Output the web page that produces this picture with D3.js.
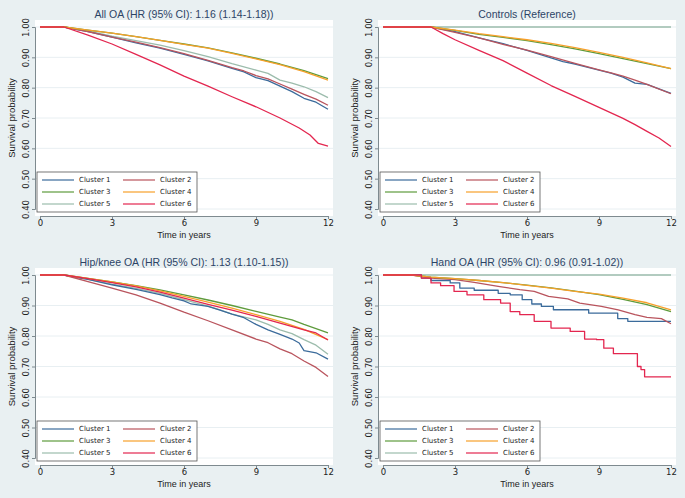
<!DOCTYPE html>
<html><head><meta charset="utf-8">
<script src="https://cdn.jsdelivr.net/npm/d3@7"></script>
<style>
html,body{margin:0;padding:0;background:#e9f0f2;}
svg{display:block;}
text{font-family:"Liberation Sans",Arial,sans-serif;}
</style></head>
<body>
<script>
// ---------- data ----------
const clusterNames = ["Cluster 1","Cluster 2","Cluster 3","Cluster 4","Cluster 5","Cluster 6"];
const xTicks = [0,3,6,9,12];
const yTicks = [0.4,0.5,0.6,0.7,0.8,0.9,1.0];
const panelTitles = ["All OA (HR (95% CI): 1.16 (1.14-1.18))","Controls (Reference)","Hip/knee OA (HR (95% CI): 1.13 (1.10-1.15))","Hand OA (HR (95% CI): 0.96 (0.91-1.02))"];

// All OA
const allOA_c1 = [[0,1],[1,1],[2,0.985],[3,0.967],[4,0.948],[5,0.93],[6,0.91],[7,0.888],[8,0.864],[8.5,0.852],[9,0.833],[9.5,0.823],[10,0.805],[10.5,0.787],[11,0.765],[11.5,0.752],[12,0.729]];
const allOA_c2 = [[0,1],[1,1],[2,0.985],[3,0.967],[4,0.95],[5,0.932],[6,0.912],[7,0.89],[8,0.866],[8.5,0.855],[9,0.84],[9.5,0.829],[10,0.812],[10.5,0.795],[11,0.778],[11.5,0.762],[12,0.742]];
const allOA_c3 = [[0,1],[1,1],[2,0.99],[3,0.98],[4,0.968],[5,0.956],[6,0.944],[7,0.931],[8,0.915],[9,0.897],[10,0.878],[11,0.856],[12,0.83]];
const allOA_c4 = [[0,1],[1,1],[2,0.99],[3,0.98],[4,0.968],[5,0.956],[6,0.943],[7,0.93],[8,0.913],[9,0.895],[10,0.876],[11,0.853],[12,0.825]];
const allOA_c5 = [[0,1],[1,1],[2,0.987],[3,0.97],[4,0.955],[5,0.94],[6,0.922],[7,0.902],[8,0.879],[9,0.858],[9.5,0.847],[10,0.825],[10.5,0.815],[11,0.803],[11.5,0.787],[12,0.767]];
const allOA_c6 = [[0,1],[1,1],[2,0.973],[3,0.944],[4,0.91],[5,0.875],[6,0.838],[7,0.805],[8,0.77],[9,0.737],[10,0.70],[10.8,0.667],[11.25,0.644],[11.6,0.616],[12,0.607]];

// Controls
const ctrl_c1 = [[0,1],[2,1],[3,0.985],[4,0.964],[5,0.945],[6,0.923],[7,0.898],[7.5,0.886],[8,0.878],[9,0.858],[9.5,0.848],[10,0.835],[10.5,0.815],[11,0.811],[12,0.781]];
const ctrl_c2 = [[0,1],[2,1],[3,0.982],[4,0.964],[5,0.943],[6,0.924],[7,0.902],[8,0.88],[9,0.859],[9.5,0.849],[10,0.838],[10.5,0.825],[11,0.811],[12,0.78]];
const ctrl_c3 = [[0,1],[2,1],[3,0.989],[4,0.976],[5,0.966],[6,0.955],[7,0.942],[8,0.928],[9,0.912],[10,0.896],[11,0.879],[12,0.863]];
const ctrl_c4 = [[0,1],[2,1],[3,0.99],[4,0.978],[5,0.968],[6,0.958],[7,0.946],[8,0.932],[9,0.916],[10,0.9],[11,0.882],[12,0.863]];
const ctrl_c5 = [[0,1],[12,1]];
const ctrl_c6 = [[0,1],[2,1],[2.5,0.978],[3,0.958],[4,0.923],[5,0.889],[6,0.848],[7,0.807],[8,0.771],[9,0.735],[10,0.699],[10.5,0.678],[11,0.656],[11.5,0.634],[12,0.606]];

// Hip/knee OA
const hip_c1 = [[0,1],[1,1],[2,0.986],[3,0.968],[4,0.953],[5,0.936],[5.5,0.925],[6,0.915],[6.3,0.905],[7,0.897],[7.5,0.885],[8,0.872],[8.5,0.86],[9,0.838],[9.5,0.82],[10,0.805],[10.5,0.79],[10.8,0.777],[11,0.752],[11.5,0.745],[12,0.724]];
const hip_c2 = [[0,1],[1,1],[2,0.978],[3,0.957],[4,0.935],[5,0.908],[6,0.878],[7,0.85],[8,0.82],[9,0.79],[9.5,0.778],[10,0.758],[10.5,0.742],[11,0.718],[11.5,0.697],[12,0.667]];
const hip_c3 = [[0,1],[1,1],[2,0.989],[3,0.977],[4,0.965],[5,0.951],[6,0.935],[7,0.918],[8,0.9],[9,0.881],[10,0.862],[10.5,0.853],[11,0.838],[12,0.81]];
const hip_c4 = [[0,1],[1,1],[2,0.989],[3,0.977],[4,0.964],[5,0.948],[6,0.93],[7,0.911],[8,0.891],[9,0.87],[10,0.848],[11,0.822],[12,0.788]];
const hip_c5 = [[0,1],[1,1],[2,0.986],[3,0.97],[4,0.956],[5,0.94],[6,0.919],[7,0.898],[7.5,0.886],[8,0.872],[9,0.853],[9.5,0.838],[10,0.82],[10.5,0.808],[11,0.788],[11.5,0.77],[12,0.74]];
const hip_c6 = [[0,1],[1,1],[2,0.988],[3,0.975],[4,0.961],[5,0.944],[6,0.924],[7,0.904],[8,0.885],[9,0.864],[10,0.842],[11,0.82],[11.5,0.81],[12,0.787]];

// Hand OA
const hand_c1 = [[0,1],[1.15,1],[1.6,0.99],[2,0.982],[2.8,0.974],[3.2,0.957],[3.8,0.95],[4.8,0.94],[5.3,0.935],[5.8,0.919],[6.2,0.905],[6.6,0.897],[7.1,0.886],[8.57,0.875],[9.78,0.857],[10.2,0.848],[12,0.848]];
const hand_c2 = [[0,1],[1.2,1],[2,0.99],[3,0.985],[3.8,0.976],[4.8,0.963],[5.7,0.952],[6.3,0.946],[6.9,0.93],[7.7,0.922],[8.2,0.908],[9.1,0.897],[9.8,0.886],[10.5,0.87],[11,0.861],[11.6,0.857],[12,0.84]];
const hand_c3 = [[0,1],[1.2,1],[2,0.993],[3,0.988],[4,0.982],[5,0.975],[6,0.967],[7,0.958],[8,0.947],[9,0.936],[10,0.92],[11,0.903],[12,0.88]];
const hand_c4 = [[0,1],[1.2,1],[2,0.993],[3,0.988],[4,0.982],[5,0.975],[6,0.966],[7,0.957],[8,0.946],[9,0.937],[10,0.924],[11,0.909],[12,0.886]];
const hand_c5 = [[0,1],[12,1]];
const hand_c6 = [[0,1],[1.43,1],[1.6,0.99],[2,0.974],[2.4,0.965],[2.96,0.946],[3.5,0.935],[4.2,0.919],[4.9,0.908],[5.3,0.88],[5.7,0.87],[6.3,0.848],[7.0,0.826],[7.8,0.815],[8.4,0.79],[8.9,0.788],[9.2,0.76],[9.6,0.742],[10.55,0.742],[10.6,0.70],[10.75,0.69],[10.9,0.666],[12,0.666]];

// ---------- layout / style ----------
const colors = ["#3b6b9b","#b9545d","#5e9b3c","#f7a02a","#9cbcac","#e3264f"];
const panels = [
  {title: panelTitles[0], series:[allOA_c1,allOA_c2,allOA_c3,allOA_c4,allOA_c5,allOA_c6], x0:35, x1:333, y0:20, y1:216, stepSet:[]},
  {title: panelTitles[1], series:[ctrl_c1,ctrl_c2,ctrl_c3,ctrl_c4,ctrl_c5,ctrl_c6], x0:378, x1:676, y0:20, y1:216, stepSet:[]},
  {title: panelTitles[2], series:[hip_c1,hip_c2,hip_c3,hip_c4,hip_c5,hip_c6], x0:35, x1:333, y0:268, y1:465, stepSet:[]},
  {title: panelTitles[3], series:[hand_c1,hand_c2,hand_c3,hand_c4,hand_c5,hand_c6], x0:378, x1:676, y0:268, y1:465, stepSet:[0,5]}
];

const W=685,H=498;
const svg = d3.select("body").append("svg").attr("width",W).attr("height",H);
svg.append("rect").attr("width",W).attr("height",H).attr("fill","#e9f0f2");

panels.forEach(p=>{
  const g = svg.append("g");
  const x = d3.scaleLinear().domain([0,12]).range([p.x0+5,p.x1-5]);
  const y = d3.scaleLinear().domain([0.4,1.0]).range([p.y1-7,p.y0+7]);
  g.append("rect").attr("x",p.x0).attr("y",p.y0).attr("width",p.x1-p.x0).attr("height",p.y1-p.y0).attr("fill","#ffffff");
  // gridlines
  g.selectAll(".grid").data(yTicks).join("line")
    .attr("x1",p.x0).attr("x2",p.x1).attr("y1",d=>y(d)).attr("y2",d=>y(d))
    .attr("stroke","#e8eff2").attr("stroke-width",1);
  // axes
  const xa = g.append("g").attr("transform",`translate(0,${p.y1})`)
    .call(d3.axisBottom(x).tickValues(xTicks).tickSize(3).tickPadding(1).tickFormat(d3.format("d")));
  const ya = g.append("g").attr("transform",`translate(${p.x0},0)`)
    .call(d3.axisLeft(y).tickValues(yTicks).tickSize(3).tickFormat(d3.format(".2f")));
  [xa,ya].forEach(a=>{
    a.select(".domain").attr("stroke","#7e8a8f");
    a.selectAll(".tick line").attr("stroke","#7e8a8f");
    a.selectAll("text").attr("fill","#222").style("font-size","8.5px").style("font-family","'DejaVu Sans',sans-serif");
  });
  ya.selectAll(".tick text").attr("x",null).attr("dy",null)
    .attr("text-anchor","middle")
    .attr("transform",`translate(-9,0) rotate(-90)`).attr("y",0).attr("dy","0.32em");
  // axis titles
  g.append("text").attr("x",(p.x0+p.x1)/2).attr("y",p.y1+22).attr("text-anchor","middle")
    .attr("fill","#222").style("font-size","9px").text("Time in years");
  g.append("text").attr("transform",`translate(${p.x0-20},${(p.y0+p.y1)/2}) rotate(-90)`)
    .attr("text-anchor","middle").attr("fill","#222").style("font-size","9.5px").text("Survival probability");
  // title
  g.append("text").attr("x",(p.x0+p.x1)/2).attr("y",p.y0-2).attr("text-anchor","middle")
    .attr("fill","#2c4466").style("font-size","10.5px").text(p.title);
  // curves
  const order=[4,0,1,2,3,5];
  order.forEach(i=>{
    const line = d3.line().x(d=>x(d[0])).y(d=>y(d[1]))
      .curve(p.stepSet.includes(i)?d3.curveStepAfter:d3.curveLinear);
    g.append("path").datum(p.series[i]).attr("d",line).attr("fill","none")
      .attr("stroke",colors[i]).attr("stroke-width",1.3).attr("stroke-linejoin","round");
  });
  // legend
  const lx=p.x0+2, ly=p.y1-44;
  const lg = g.append("g").attr("transform",`translate(${lx},${ly})`);
  lg.append("rect").attr("width",160).attr("height",40).attr("fill","#fff").attr("stroke","#555").attr("stroke-width",0.8);
  clusterNames.forEach((n,i)=>{
    const col=i%2,row=Math.floor(i/2);
    const ox = col===0?5:86, oy = 8+row*12;
    lg.append("line").attr("x1",ox).attr("x2",ox+32).attr("y1",oy).attr("y2",oy).attr("stroke",colors[i]).attr("stroke-width",1.2);
    lg.append("text").attr("x",ox+37).attr("y",oy).attr("dy","0.35em").attr("fill","#222")
      .style("font-size","7px").style("font-family","'DejaVu Sans',sans-serif").text(n);
  });
});
</script>
</body></html>
